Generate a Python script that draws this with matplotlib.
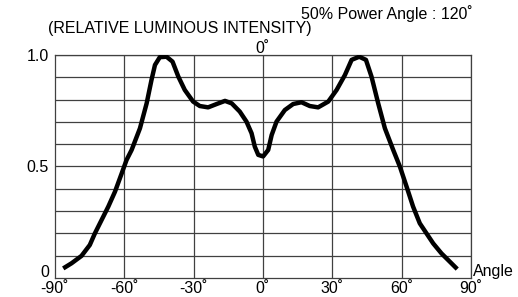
import matplotlib
matplotlib.use("Agg")
import matplotlib.pyplot as plt

plt.rcParams['font.family'] = ['Liberation Sans', 'DejaVu Sans']

# --- Data ---
angles = [-86.4, -82.8, -78.5, -74.9, -72.7, -69.8, -66.9, -64.0, -61.1, -59.0,
          -56.8, -53.2, -50.3, -48.2, -46.7, -44.6, -41.7, -39.1, -36.6, -33.8,
          -30.2, -27.3, -23.7, -20.0, -16.4, -13.5, -10.0, -7.1, -4.9, -3.5,
          -2.0, 0.1, 2.3, 3.8, 5.9, 9.5, 13.1, 16.7, 20.3, 23.9,
          28.3, 31.9, 35.5, 38.4, 41.7, 44.6, 47.0, 49.9, 52.8, 56.4,
          59.3, 62.2, 65.0, 67.9, 70.8, 73.7, 77.3, 80.9, 84.1]
intensity = [0.043, 0.066, 0.099, 0.148, 0.200, 0.260, 0.320, 0.387, 0.469, 0.529,
             0.574, 0.671, 0.783, 0.888, 0.955, 0.990, 0.992, 0.970, 0.903, 0.843,
             0.791, 0.771, 0.765, 0.780, 0.794, 0.783, 0.746, 0.701, 0.649, 0.589,
             0.552, 0.545, 0.574, 0.641, 0.701, 0.753, 0.780, 0.788, 0.771, 0.765,
             0.791, 0.843, 0.910, 0.978, 0.992, 0.978, 0.903, 0.783, 0.671, 0.574,
             0.499, 0.409, 0.320, 0.245, 0.200, 0.155, 0.110, 0.073, 0.040]

x_ticks = [-90, -60, -30, 0, 30, 60, 90]
x_labels = ['-90˚', '-60˚', '-30˚', '0˚', '30˚', '60˚', '90˚']
y_ticks = [0.5, 1.0]
y_labels = ['0.5', '1.0']

fs = 11.5

fig = plt.figure(figsize=(5.18, 2.97), dpi=100)
fig.patch.set_facecolor('white')
ax = fig.add_axes([0.106, 0.064, 0.803, 0.751])

# grid: every 30 deg, every 0.1
for xv in range(-60, 91, 30):
    ax.axvline(xv, color='#404040', lw=0.9, zorder=1)
for i in range(1, 11):
    ax.axhline(i / 10, color='#404040', lw=0.9, zorder=1)

ax.plot(angles, intensity, color='black', lw=3.2, solid_joinstyle='round',
        solid_capstyle='butt', zorder=3)

ax.set_xlim(-90, 90)
ax.set_ylim(0, 1.0)
for s in ax.spines.values():
    s.set_color('#404040')
    s.set_linewidth(0.9)

ax.set_xticks(x_ticks)
ax.set_xticklabels(x_labels, fontsize=fs)
ax.set_yticks(y_ticks)
ax.set_yticklabels(y_labels, fontsize=fs)
ax.tick_params(axis='x', length=0, pad=2)
ax.tick_params(axis='y', length=0, pad=4.5)

# the origin "0" sits just above the -90 label
ax.text(-92.6, 0.025, '0', fontsize=fs, ha='right', va='center')
ax.text(91, 0.03, 'Angle', fontsize=fs, ha='left', va='center')
ax.text(0, 1.03, '0˚', fontsize=fs, ha='center', va='center')

fig.text(0.093, 0.903, '(RELATIVE LUMINOUS INTENSITY)', fontsize=fs,
         ha='left', va='center')
fig.text(0.913, 0.953, '50% Power Angle : 120˚', fontsize=fs,
         ha='right', va='center')
fig.text(0.12, 0.99, 'WAVELENGTH:', fontsize=fs, ha='left', va='bottom')

fig.savefig('out.png', dpi=100)
